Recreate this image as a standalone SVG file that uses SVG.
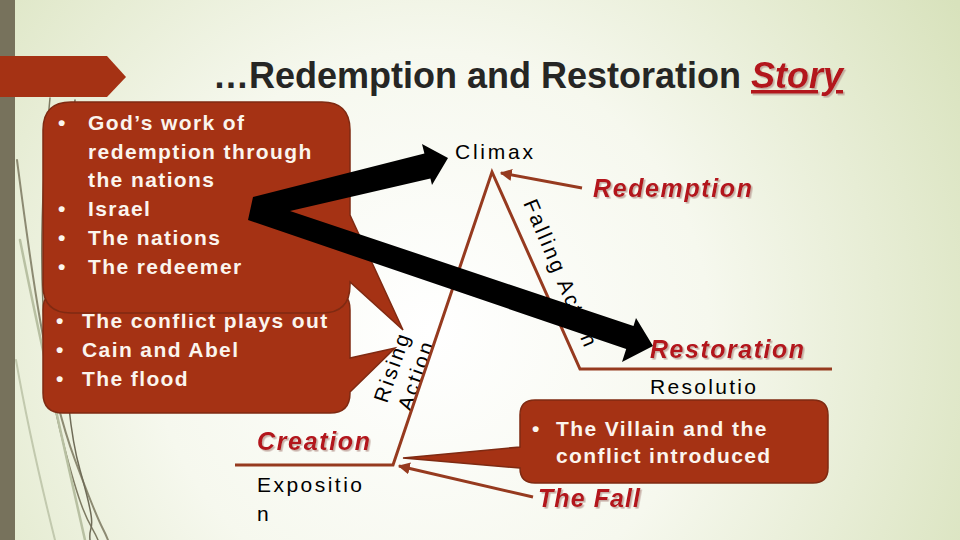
<svg xmlns="http://www.w3.org/2000/svg" width="960" height="540" viewBox="0 0 960 540">
  <defs>
    <radialGradient id="bgGrad" cx="430" cy="330" r="620" gradientUnits="userSpaceOnUse">
      <stop offset="0" stop-color="#ffffff"/>
      <stop offset="0.45" stop-color="#f6f8ee"/>
      <stop offset="1" stop-color="#d8e2bc"/>
    </radialGradient>
    <filter id="shadow" x="-10%" y="-20%" width="130%" height="150%">
      <feDropShadow dx="1.6" dy="1.6" stdDeviation="0.5" flood-color="#b89890" flood-opacity="0.75"/>
    </filter>
    <marker id="ah" viewBox="0 0 10 10" refX="9" refY="5" markerWidth="4" markerHeight="4" orient="auto" markerUnits="strokeWidth">
      <path d="M0,0 L10,5 L0,10 z" fill="#963a1f"/>
    </marker>
    <style>
      .f { font-family: "Liberation Sans", Arial, sans-serif; }
      .title { font-size: 36px; font-weight: bold; fill: #262624; }
      .redlbl { font-size: 25px; font-weight: bold; font-style: italic; fill: #b3121a; filter: url(#shadow); }
      .blk { font-size: 21px; fill: #000000; }
      .call { fill: #a53214; stroke: #7f2a12; stroke-width: 1.5; }
      .ct { font-size: 21px; font-weight: bold; fill: #fbf5ee; letter-spacing: 1.4px; }
      .plot { fill: none; stroke: #963a1f; stroke-width: 3; }
      .deco { fill: none; stroke-linecap: round; }
    </style>
  </defs>

  <g id="background">
    <rect x="0" y="0" width="960" height="540" fill="url(#bgGrad)"/>
    <rect x="0" y="0" width="15" height="540" fill="#77725c"/>
    <path class="deco" d="M 50 98 C 40 200, 35 330, 60 430 S 90 520, 98 540" stroke="#7d7a62" stroke-width="1.5"/>
    <path class="deco" d="M 17 160 C 30 260, 45 380, 75 460 S 100 520, 108 540" stroke="#8c8a72" stroke-width="2"/>
    <path class="deco" d="M 20 240 C 40 340, 60 430, 85 540" stroke="#b8c0a2" stroke-width="2.5"/>
    <path class="deco" d="M 75 100 C 60 250, 60 400, 80 470 S 88 520, 90 540" stroke="#6f6c58" stroke-width="1.5"/>
    <path class="deco" d="M 16 360 C 30 440, 45 500, 55 540" stroke="#c2c9ae" stroke-width="2"/>
    <polygon points="0,56 107,56 126,77 107,97 0,97" fill="#a53214"/>
  </g>

  <g id="title">
    <text class="f title" x="213" y="88">…Redemption and Restoration <tspan x="751" fill="#b3121a" font-style="italic" text-decoration="underline" filter="url(#shadow)">Story</tspan></text>
  </g>

  <g id="callout-conflict">
    <path class="call" d="M 63 290 H 330 Q 350 290 350 310 V 358 L 395 348 L 350 392 V 393 Q 350 413 330 413 H 63 Q 43 413 43 393 V 310 Q 43 290 63 290 Z"/>
    <text class="f ct" x="56" y="328">•</text>
    <text class="f ct" x="82" y="328">The conflict plays out</text>
    <text class="f ct" x="56" y="357">•</text>
    <text class="f ct" x="82" y="357">Cain and Abel</text>
    <text class="f ct" x="56" y="386">•</text>
    <text class="f ct" x="82" y="386">The flood</text>
  </g>

  <g id="callout-redemption">
    <path class="call" d="M 71 102 H 322 Q 350 102 350 130 V 215 L 403 330 L 350 282 V 285 Q 350 313 322 313 H 71 Q 43 313 43 285 V 130 Q 43 102 71 102 Z"/>
    <text class="f ct" x="58" y="130">•</text>
    <text class="f ct" x="88" y="130">God’s work of</text>
    <text class="f ct" x="88" y="159">redemption through</text>
    <text class="f ct" x="88" y="187">the nations</text>
    <text class="f ct" x="58" y="216">•</text>
    <text class="f ct" x="88" y="216">Israel</text>
    <text class="f ct" x="58" y="245">•</text>
    <text class="f ct" x="88" y="245">The nations</text>
    <text class="f ct" x="58" y="274">•</text>
    <text class="f ct" x="88" y="274">The redeemer</text>
  </g>

  <g id="callout-villain">
    <path class="call" d="M 535 400 H 813 Q 828 400 828 415 V 468 Q 828 483 813 483 H 535 Q 520 483 520 468 L 403 458 L 520 447 V 415 Q 520 400 535 400 Z"/>
    <text class="f ct" x="532" y="436">•</text>
    <text class="f ct" x="556" y="436">The Villain and the</text>
    <text class="f ct" x="556" y="463">conflict introduced</text>
  </g>

  <g id="label-climax"><text class="f blk" x="455" y="159" textLength="78">Climax</text></g>
  <g id="label-redemption"><text class="f redlbl" x="593" y="197" textLength="159">Redemption</text></g>
  <g id="label-restoration"><text class="f redlbl" x="650" y="358" textLength="154">Restoration</text></g>
  <g id="label-resolution"><text class="f blk" x="650" y="394" textLength="106">Resolutio</text></g>
  <g id="label-creation"><text class="f redlbl" x="257" y="450" textLength="113">Creation</text></g>
  <g id="label-exposition">
    <text class="f blk" x="257" y="492" textLength="105">Expositio</text>
    <text class="f blk" x="257" y="521">n</text>
  </g>
  <g id="label-thefall"><text class="f redlbl" x="538" y="507" textLength="102">The Fall</text></g>
  <g id="label-rising">
    <text class="f blk" transform="translate(387 404) rotate(-71)" letter-spacing="2.5">Rising</text>
    <text class="f blk" transform="translate(411 412) rotate(-71)" letter-spacing="2.5">Action</text>
  </g>
  <g id="label-falling">
    <text class="f blk" transform="translate(523 203) rotate(67)" letter-spacing="2.5">Falling Action</text>
  </g>

  <g id="connectors">
    <polyline class="plot" points="235,465 393,465 492,172 580,369 832,369" stroke-linejoin="miter"/>
    <line class="plot" x1="582" y1="188" x2="501" y2="173" marker-end="url(#ah)"/>
    <line class="plot" x1="533" y1="497" x2="399" y2="466" marker-end="url(#ah)"/>
    <path id="black-arrows" fill="#000000" d="M 253 197 L 424.4 153.5 L 422 144 L 448 158 L 432 185 L 430.4 178.4 L 290 211 L 633.5 326 L 636 318 L 653 346 L 622 362 L 626.2 349 L 248 220 Z"/>
  </g>
</svg>
